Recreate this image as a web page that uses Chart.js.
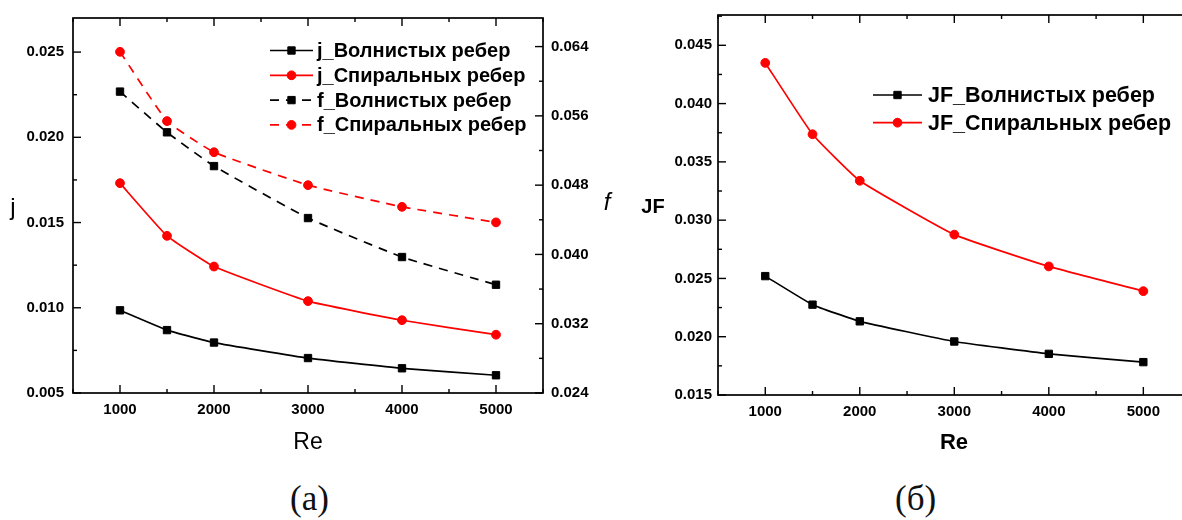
<!DOCTYPE html>
<html>
<head>
<meta charset="utf-8">
<script src="https://cdn.jsdelivr.net/npm/chart.js@4/dist/chart.umd.min.js"></script>
<style>
  html, body { margin: 0; padding: 0; background: #fff; overflow: hidden; width: 1182px; height: 520px; }
  #chartA { position: absolute; left: 0; top: 0; }
  #chartB { position: absolute; left: 625px; top: 0; }
  .cap { position: absolute; top: 479px; font: 35px "Liberation Serif", "Times New Roman", serif; color: #111; line-height: 40px; }
</style>
</head>
<body>
<canvas id="chartA" width="625" height="470"></canvas>
<canvas id="chartB" width="575" height="470"></canvas>
<div class="cap" style="left:290px">(а)</div>
<div class="cap" style="left:895px">(б)</div>

<script>
// values
const reValues = [1000, 1500, 2000, 3000, 4000, 5000];
const jWavy    = [0.00985, 0.00869, 0.00796, 0.00705, 0.00645, 0.00604];
const jSpiral  = [0.01731, 0.01422, 0.01242, 0.01039, 0.00927, 0.00842];
const fWavy    = [0.0588, 0.0541, 0.0502, 0.0442, 0.0397, 0.0365];
const fSpiral  = [0.0634, 0.0554, 0.0518, 0.0480, 0.0455, 0.0437];
const jfWavy   = [0.0252, 0.02275, 0.02132, 0.01959, 0.01853, 0.01782];
const jfSpiral = [0.04349, 0.03737, 0.03338, 0.02876, 0.02603, 0.02391];

const reTicks = [1000, 2000, 3000, 4000, 5000];
const jTicks  = [0.005, 0.010, 0.015, 0.020, 0.025];
const fTicks  = [0.024, 0.032, 0.040, 0.048, 0.056, 0.064];
const jfTicks = [0.015, 0.020, 0.025, 0.030, 0.035, 0.040, 0.045];

const SANS = "'Liberation Sans', Arial, sans-serif";
const pts = arr => arr.map((v, i) => ({ x: reValues[i], y: v }));

// inward ticks + box around the plot
const framePlugin = {
  id: "frame",
  afterDatasetsDraw(chart, args, opts) {
    const { ctx, chartArea: a } = chart;
    ctx.save();
    ctx.strokeStyle = "#000";
    ctx.lineWidth = 1.7;
    ctx.strokeRect(a.left, a.top, a.right - a.left, a.bottom - a.top);
    ctx.lineWidth = 1.4;
    opts.axes.forEach(ax => {
      const s = chart.scales[ax.id];
      const half = (ax.majors[1] - ax.majors[0]) / 2;
      let k = Math.ceil((s.min - ax.majors[0]) / half - 1e-6);
      for (;; k++) {
        const v = ax.majors[0] + k * half;
        if (v > s.max + 1e-9) break;
        const len = k % 2 === 0 ? 8 : 4;
        const p = s.getPixelForValue(v);
        ctx.beginPath();
        ax.sides.forEach(side => {
          if (side === "bottom") { ctx.moveTo(p, a.bottom); ctx.lineTo(p, a.bottom - len); }
          if (side === "top")    { ctx.moveTo(p, a.top);    ctx.lineTo(p, a.top + len); }
          if (side === "left")   { ctx.moveTo(a.left, p);   ctx.lineTo(a.left + len, p); }
          if (side === "right")  { ctx.moveTo(a.right, p);  ctx.lineTo(a.right - len, p); }
        });
        ctx.stroke();
      }
    });
    ctx.restore();
  }
};

// legend with line sample + marker, like the original
const sampleLegend = {
  id: "sampleLegend",
  afterDraw(chart, args, opts) {
    const ctx = chart.ctx;
    ctx.save();
    chart.data.datasets.forEach((ds, i) => {
      const y = opts.y + i * opts.dy;
      ctx.strokeStyle = ds.borderColor;
      ctx.fillStyle = ds.backgroundColor;
      ctx.lineWidth = ds.borderWidth;
      ctx.setLineDash(ds.borderDash || []);
      ctx.beginPath();
      ctx.moveTo(opts.x, y);
      ctx.lineTo(opts.x + opts.len, y);
      ctx.stroke();
      ctx.setLineDash([]);
      ctx.lineWidth = 1;
      Chart.helpers.drawPoint(ctx, { pointStyle: ds.pointStyle, radius: ds.pointRadius, rotation: 0, borderWidth: 1 },
        opts.x + opts.len / 2, y);
      ctx.fillStyle = "#000";
      ctx.font = opts.font;
      ctx.textBaseline = "middle";
      ctx.fillText(ds.label, opts.x + opts.len + opts.gap, y + 1);
    });
    ctx.restore();
  }
};

// axis titles (upright, as in the original)
const titlesPlugin = {
  id: "titles",
  afterDraw(chart, args, opts) {
    const ctx = chart.ctx;
    ctx.save();
    ctx.fillStyle = "#000";
    ctx.textAlign = "center";
    ctx.textBaseline = "middle";
    opts.items.forEach(t => {
      ctx.font = t.font;
      ctx.fillText(t.text, t.x, t.y);
    });
    ctx.restore();
  }
};

function series(label, data, color, square, dashed, axis) {
  return {
    label, data: pts(data), yAxisID: axis || "y",
    borderColor: color, backgroundColor: color,
    borderWidth: 1.7, borderDash: dashed ? [9, 7] : [],
    pointStyle: square ? "rect" : "circle",
    pointRadius: square ? 5.2 : 4.4, pointBorderWidth: 1,
    tension: 0.12
  };
}

const tickFont = { family: SANS, weight: "bold", size: 15 };

function xAxis(height) {
  return {
    type: "linear", position: "bottom", min: 500, max: 5500,
    grid: { display: false, drawTicks: false }, border: { display: false },
    afterBuildTicks: s => { s.ticks = reTicks.map(v => ({ value: v })); },
    afterFit: s => { s.height = height; },
    ticks: { color: "#000", padding: 8, maxRotation: 0, font: tickFont, callback: v => String(v) }
  };
}

function yAxis(pos, min, max, ticks, width, pad) {
  return {
    type: "linear", position: pos, min, max,
    grid: { display: false, drawTicks: false }, border: { display: false },
    afterBuildTicks: s => { s.ticks = ticks.map(v => ({ value: v })); },
    afterFit: s => { s.width = width; },
    ticks: { color: "#000", padding: pad, font: tickFont, callback: v => v.toFixed(3) }
  };
}

const common = { responsive: false, animation: false, devicePixelRatio: 1, events: [] };

new Chart(document.getElementById("chartA"), {
  type: "line",
  data: {
    datasets: [
      series("j_Волнистых ребер", jWavy, "#000", true, false, "y"),
      series("j_Спиральных ребер", jSpiral, "#ff0000", false, false, "y"),
      series("f_Волнистых ребер", fWavy, "#000", true, true, "y1"),
      series("f_Спиральных ребер", fSpiral, "#ff0000", false, true, "y1")
    ]
  },
  options: {
    ...common,
    layout: { padding: { top: 14, left: 0, right: 0, bottom: 0 } },
    scales: {
      x: xAxis(77),
      y: yAxis("left", 0.005, 0.027, jTicks, 73, 9),
      y1: yAxis("right", 0.024, 0.0673, fTicks, 82, 8)
    },
    plugins: {
      legend: { display: false },
      tooltip: { enabled: false },
      frame: { axes: [
        { id: "x", sides: ["bottom", "top"], majors: reTicks },
        { id: "y", sides: ["left"], majors: jTicks },
        { id: "y1", sides: ["right"], majors: fTicks }
      ] },
      sampleLegend: { x: 270, y: 50.5, dy: 24.8, len: 43, gap: 4, font: "bold 20px " + SANS },
      titles: { items: [
        { text: "j", x: 13, y: 208, font: "24px " + SANS },
        { text: "f", x: 607, y: 203, font: "italic 24px " + SANS },
        { text: "Re", x: 308, y: 443, font: "23px " + SANS }
      ] }
    }
  },
  plugins: [framePlugin, sampleLegend, titlesPlugin]
});

new Chart(document.getElementById("chartB"), {
  type: "line",
  data: {
    datasets: [
      series("JF_Волнистых ребер", jfWavy, "#000", true, false, "y"),
      series("JF_Спиральных ребер", jfSpiral, "#ff0000", false, false, "y")
    ]
  },
  options: {
    ...common,
    layout: { padding: { top: 14, left: 0, right: 9.4, bottom: 0 } },
    scales: {
      x: xAxis(75),
      y: yAxis("left", 0.015, 0.0476, jfTicks, 93, 6)
    },
    plugins: {
      legend: { display: false },
      tooltip: { enabled: false },
      frame: { axes: [
        { id: "x", sides: ["bottom", "top"], majors: reTicks },
        { id: "y", sides: ["left"], majors: jfTicks }
      ] },
      sampleLegend: { x: 248, y: 95, dy: 27.7, len: 49, gap: 6, font: "bold 21.5px " + SANS },
      titles: { items: [
        { text: "JF", x: 28, y: 207, font: "bold 20px " + SANS },
        { text: "Re", x: 329, y: 443, font: "bold 22px " + SANS }
      ] }
    }
  },
  plugins: [framePlugin, sampleLegend, titlesPlugin]
});
</script>
</body>
</html>
